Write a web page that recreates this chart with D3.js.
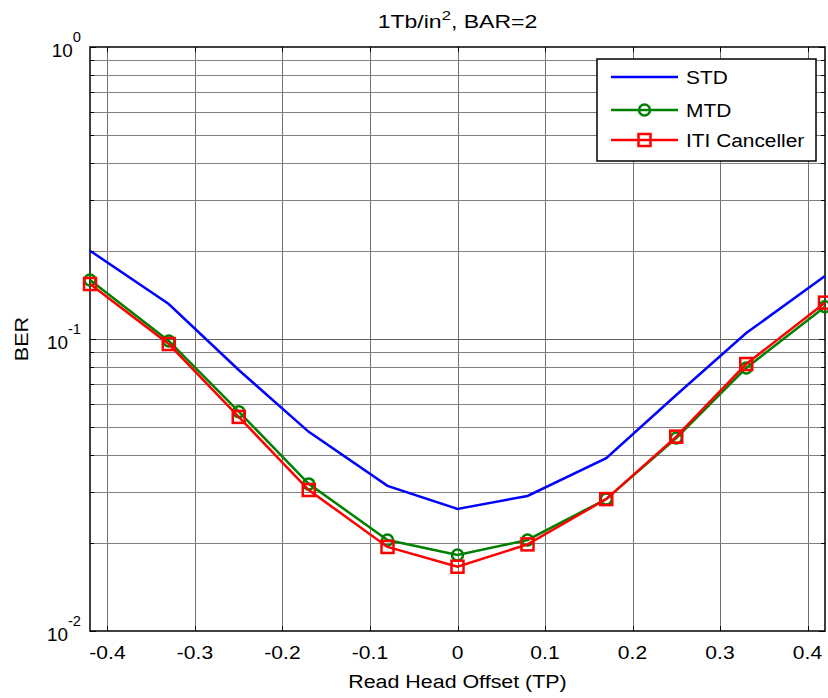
<!DOCTYPE html>
<html>
<head>
<meta charset="utf-8">
<script src="https://cdn.jsdelivr.net/npm/d3@7"></script>
<style>
    body { margin: 0; background: #fff; }
    text { font-family: "Liberation Sans", Arial, sans-serif; fill: #000; }
</style>
</head>
<body>
<div id="chart"></div>
<script>

    // data
    var offsets = [-0.42, -0.33, -0.25, -0.17, -0.08, 0, 0.08, 0.17, 0.25, 0.33, 0.42];
    var stdBer = [0.2006, 0.1318, 0.0783, 0.0481, 0.0314, 0.0262, 0.0290, 0.0391, 0.0643, 0.1048, 0.1644];
    var mtdBer = [0.1593, 0.0985, 0.0564, 0.0319, 0.0205, 0.0182, 0.0205, 0.0283, 0.0458, 0.0796, 0.1290];
    var itiBer = [0.1543, 0.0961, 0.0541, 0.0304, 0.0194, 0.0166, 0.0198, 0.0283, 0.0463, 0.0821, 0.1332];
    var seriesNames = ["STD", "MTD", "ITI Canceller"];
    var xTicks = [-0.4, -0.3, -0.2, -0.1, 0, 0.1, 0.2, 0.3, 0.4];
    var yDecades = [-2, -1, 0];

    var width = 828,
        height = 698,
        plotLeft = 90,
        plotRight = 825,
        plotTop = 47,
        plotBottom = 631,
        stretch = 1.17;   // the original's text is a bit wider than Liberation Sans

    var svg = d3.select("#chart").append("svg")
        .attr("width", width)
        .attr("height", height);

    var x = d3.scaleLinear().domain([-0.42, 0.42]).range([plotLeft, plotRight]);
    var y = d3.scaleLog().domain([0.01, 1]).range([plotBottom, plotTop]);

    // text placed at (tx, ty) and widened horizontally
    function wideText(parent, tx, ty, sx, rot) {
        return parent.append("text")
            .attr("transform", "translate(" + tx + "," + ty + ")" + (rot ? " rotate(" + rot + ")" : "") + " scale(" + sx + ",1)");
    }

    // minor y values 2..9 in each decade
    var minorY = [];
    [0.01, 0.1].forEach(function(d) {
        for (var k = 2; k <= 9; k++) minorY.push(d * k);
    });

    // grid
    var grid = svg.append("g");
    grid.selectAll(".gx").data(xTicks).enter().append("line")
        .attr("x1", function(d) { return Math.round(x(d)) + 0.5; })
        .attr("x2", function(d) { return Math.round(x(d)) + 0.5; })
        .attr("y1", plotTop).attr("y2", plotBottom)
        .attr("stroke", "#707070").attr("stroke-width", 1);
    grid.selectAll(".gy").data(minorY.concat([0.1])).enter().append("line")
        .attr("x1", plotLeft).attr("x2", plotRight)
        .attr("y1", function(d) { return Math.round(y(d)) + 0.5; })
        .attr("y2", function(d) { return Math.round(y(d)) + 0.5; })
        .attr("stroke", function(d) { return d === 0.1 ? "#606060" : "#808080"; })
        .attr("stroke-width", 1);

    // axes box
    svg.append("rect")
        .attr("x", plotLeft).attr("y", plotTop)
        .attr("width", plotRight - plotLeft).attr("height", plotBottom - plotTop)
        .attr("fill", "none").attr("stroke", "#000").attr("stroke-width", 1.5);

    // inner ticks, x at top and bottom
    var ticks = svg.append("g").attr("stroke", "#000").attr("stroke-width", 1);
    xTicks.forEach(function(d) {
        var px = Math.round(x(d)) + 0.5;
        ticks.append("line").attr("x1", px).attr("x2", px).attr("y1", plotBottom).attr("y2", plotBottom - 5);
        ticks.append("line").attr("x1", px).attr("x2", px).attr("y1", plotTop).attr("y2", plotTop + 5);
    });
    // y ticks left and right, major longer
    minorY.concat([0.01, 0.1, 1]).forEach(function(d) {
        var py = Math.round(y(d)) + 0.5;
        var len = (d === 0.01 || d === 0.1 || d === 1) ? 6 : 4;
        ticks.append("line").attr("x1", plotLeft).attr("x2", plotLeft + len).attr("y1", py).attr("y2", py);
        ticks.append("line").attr("x1", plotRight).attr("x2", plotRight - len).attr("y1", py).attr("y2", py);
    });

    // x tick labels (plain hyphen, like the original)
    xTicks.forEach(function(d) {
        wideText(svg, x(d), 659, stretch)
            .attr("text-anchor", "middle")
            .attr("font-size", 18)
            .text(d === 0 ? "0" : d.toFixed(1));
    });

    // y tick labels 10^n
    yDecades.forEach(function(e) {
        var t = wideText(svg, 81, y(Math.pow(10, e)) + 10, 1.05)
            .attr("text-anchor", "end")
            .attr("font-size", 18);
        t.append("tspan").text("10");
        t.append("tspan").attr("dy", -15).attr("font-size", 14).text(e);
    });

    // title and axis labels
    var title = wideText(svg, (plotLeft + plotRight) / 2, 28, 1.28)
        .attr("text-anchor", "middle")
        .attr("font-size", 18);
    title.append("tspan").text("1Tb/in");
    title.append("tspan").attr("dy", -8).attr("font-size", 13).text("2");
    title.append("tspan").attr("dy", 8).text(", BAR=2");

    wideText(svg, (plotLeft + plotRight) / 2, 688, 1.19)
        .attr("text-anchor", "middle")
        .attr("font-size", 18)
        .text("Read Head Offset (TP)");

    wideText(svg, 28, y(0.1), 1.2, -90)
        .attr("text-anchor", "middle")
        .attr("font-size", 18)
        .text("BER");

    // series
    var series = [
        { name: seriesNames[0], values: stdBer, color: "#0000ff", marker: null },
        { name: seriesNames[1], values: mtdBer, color: "#008000", marker: "circle" },
        { name: seriesNames[2], values: itiBer, color: "#ff0000", marker: "square" }
    ];

    var line = d3.line()
        .x(function(d) { return x(d[0]); })
        .y(function(d) { return y(d[1]); });

    function drawMarker(g, kind, px, py, color) {
        if (kind === "circle") {
            g.append("circle").attr("cx", px).attr("cy", py).attr("r", 5.5)
                .attr("fill", "none").attr("stroke", color).attr("stroke-width", 2.5);
        } else if (kind === "square") {
            g.append("rect").attr("x", px - 6).attr("y", py - 6).attr("width", 12).attr("height", 12)
                .attr("fill", "none").attr("stroke", color).attr("stroke-width", 2.5);
        }
    }

    series.forEach(function(s) {
        var pts = offsets.map(function(o, i) { return [o, s.values[i]]; });
        var g = svg.append("g");
        g.append("path")
            .attr("d", line(pts))
            .attr("fill", "none")
            .attr("stroke", s.color)
            .attr("stroke-width", 2.5);
        if (s.marker) {
            pts.forEach(function(p) { drawMarker(g, s.marker, x(p[0]), y(p[1]), s.color); });
        }
    });

    // legend
    var legend = svg.append("g");
    legend.append("rect")
        .attr("x", 597).attr("y", 59)
        .attr("width", 219).attr("height", 102)
        .attr("fill", "#fff").attr("stroke", "#000").attr("stroke-width", 1.5);
    var legendY = [77, 110, 140];
    series.forEach(function(s, i) {
        legend.append("line")
            .attr("x1", 611).attr("x2", 678)
            .attr("y1", legendY[i]).attr("y2", legendY[i])
            .attr("stroke", s.color).attr("stroke-width", 2.5);
        drawMarker(legend, s.marker, 644.5, legendY[i], s.color);
        wideText(legend, 686, legendY[i] + 7, 1.16)
            .attr("font-size", 18)
            .text(s.name);
    });

</script>
</body>
</html>
